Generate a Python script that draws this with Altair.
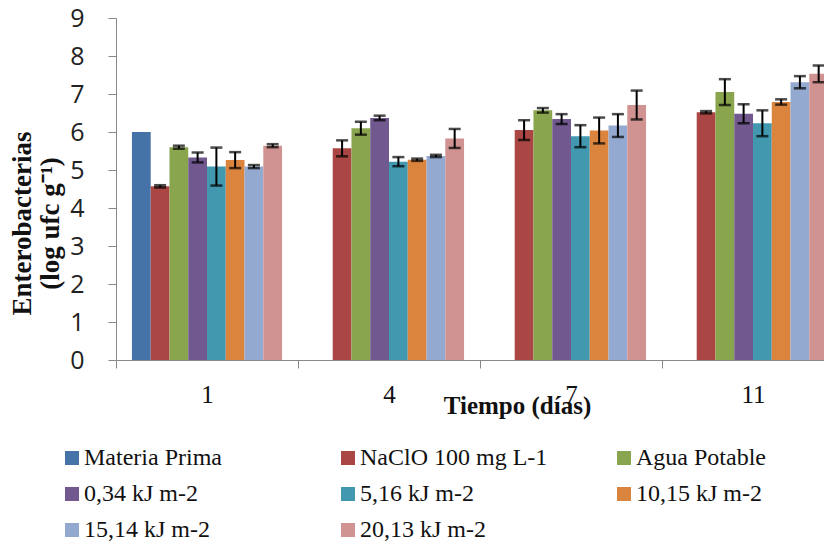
import altair as alt
import pandas as pd

# Sampling days and treatments
days = ["1", "4", "7", "11"]
series = [
    "Materia Prima",
    "NaClO 100 mg L-1",
    "Agua Potable",
    "0,34 kJ m-2",
    "5,16 kJ m-2",
    "10,15 kJ m-2",
    "15,14 kJ m-2",
    "20,13 kJ m-2",
]
colors = ["#4572A7", "#AA4643", "#89A54E", "#71588F",
          "#4198AF", "#DB843D", "#93A9CF", "#D19392"]
y_ticks = [0, 1, 2, 3, 4, 5, 6, 7, 8, 9]

# Mean counts (log ufc g-1) per day
materia_prima = [6.00, None, None, None]
naclo = [4.57, 5.57, 6.05, 6.52]
agua = [5.60, 6.10, 6.57, 7.05]
kj_034 = [5.33, 6.37, 6.34, 6.48]
kj_516 = [5.09, 5.22, 5.89, 6.23]
kj_1015 = [5.26, 5.27, 6.04, 6.79]
kj_1514 = [5.09, 5.37, 6.17, 7.31]
kj_2013 = [5.64, 5.83, 6.71, 7.53]

# Standard deviations
err_materia_prima = [None, None, None, None]
err_naclo = [0.03, 0.21, 0.26, 0.03]
err_agua = [0.04, 0.17, 0.06, 0.34]
err_034 = [0.13, 0.06, 0.13, 0.25]
err_516 = [0.50, 0.12, 0.29, 0.34]
err_1015 = [0.21, 0.03, 0.34, 0.07]
err_1514 = [0.04, 0.03, 0.30, 0.16]
err_2013 = [0.04, 0.25, 0.38, 0.22]

means = [materia_prima, naclo, agua, kj_034, kj_516, kj_1015, kj_1514, kj_2013]
errs = [err_materia_prima, err_naclo, err_agua, err_034, err_516,
        err_1015, err_1514, err_2013]

rows = []
for name, vals, es in zip(series, means, errs):
    for d, v, e in zip(days, vals, es):
        if v is None:
            continue
        rows.append({
            "day": d, "series": name, "value": v,
            "err": e,
            "lo": v - e if e is not None else None,
            "hi": v + e if e is not None else None,
        })
df = pd.DataFrame(rows)

serif = "Liberation Serif"
y_scale = alt.Scale(domain=[0, 9], nice=False)
y_axis = alt.Axis(
    values=y_ticks,
    labelOverlap=False,
    title=["Enterobacterias", "(log ufc g⁻¹)"],
    grid=False,
    tickSize=8,
    tickColor="#888888",
    domainColor="#888888",
    labelFont="Open Sans",
    labelFontSize=25,
    labelColor="#222222",
    labelPadding=24,
    titleFont=serif,
    titleFontSize=27,
    titleFontWeight="bold",
    titleColor="#111111",
    titleAngle=270,
    titleLineHeight=28,
    titleX=-94,
    titleY=205,
    titleAlign="center",
    titleBaseline="middle",
)

x_enc = alt.X(
    "day:N",
    sort=days,
    scale=alt.Scale(domain=days, range=[0, 728], paddingInner=0, paddingOuter=0),
    axis=alt.Axis(
        title="Tiempo (días)",
        labelAngle=0,
        tickBand="extent",
        tickSize=8,
        tickColor="#888888",
        domainColor="#888888",
        labelFont=serif,
        labelFontSize=25,
        labelColor="#111111",
        labelPadding=14,
        titleFont=serif,
        titleFontSize=25,
        titleFontWeight="bold",
        titleColor="#111111",
        titleX=401,
        titleY=45,
        titleAlign="center",
        titleBaseline="middle",
    ),
)
xoff_enc = alt.XOffset(
    "series:N",
    scale=alt.Scale(domain=series, paddingInner=0, paddingOuter=0.85),
)

base = alt.Chart(df).encode(x=x_enc, xOffset=xoff_enc)

bars = base.mark_bar().encode(
    y=alt.Y("value:Q", scale=y_scale, axis=y_axis),
    color=alt.Color(
        "series:N",
        scale=alt.Scale(domain=series, range=colors),
        legend=alt.Legend(
            orient="none",
            legendX=-56,
            legendY=428,
            direction="horizontal",
            columns=3,
            title=None,
            symbolType="square",
            symbolSize=196,
            symbolStrokeWidth=0,
            labelFont=serif,
            labelFontSize=24,
            labelColor="#111111",
            labelLimit=400,
            labelOffset=0,
            columnPadding=64,
            rowPadding=12,
            gridAlign="all",
            padding=0,
        ),
    ),
)

with_err = base.transform_filter("isValid(datum.err)")

stems = with_err.mark_rule(color="black", strokeWidth=2).encode(
    y=alt.Y("lo:Q", scale=y_scale, axis=y_axis), y2="hi:Q"
)
caps_hi = with_err.mark_tick(color="black", thickness=2.5, size=12,
                             orient="horizontal").encode(
    y=alt.Y("hi:Q", scale=y_scale, axis=y_axis))
caps_lo = with_err.mark_tick(color="black", thickness=2.5, size=12,
                             orient="horizontal").encode(
    y=alt.Y("lo:Q", scale=y_scale, axis=y_axis))

chart = (
    alt.layer(bars, stems, caps_hi, caps_lo)
    .properties(
        width=708,
        height=342,
        autosize=alt.AutoSizeParams(type="none"),
        padding={"left": 116, "top": 18, "right": 0, "bottom": 184},
    )
    .configure_view(stroke=None)
    .configure_legend(labelFont=serif, labelFontSize=24)
)

chart.save("out.html", embed_options={"renderer": "svg", "actions": False})
